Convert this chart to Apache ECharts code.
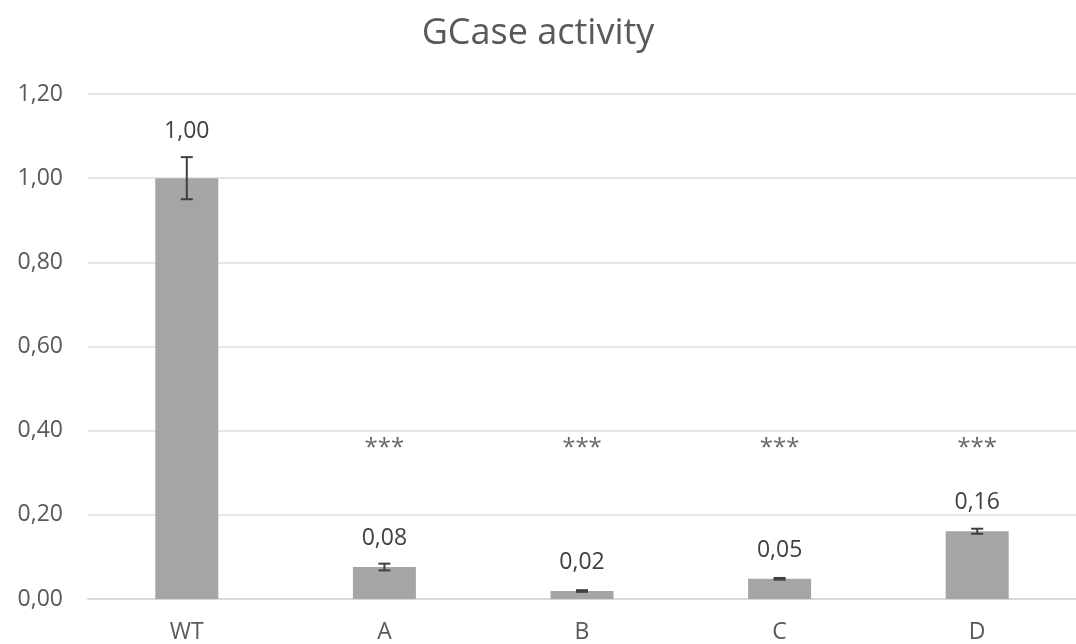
<!DOCTYPE html>
<html><head><meta charset="utf-8">
<script src="https://cdn.jsdelivr.net/npm/echarts@6/dist/echarts.min.js"></script>
<style>html,body{margin:0;padding:0;background:#fff}#c{width:1076px;height:644px}</style>
</head><body><div id="c"></div>
<script>
const categories = ['WT', 'A', 'B', 'C', 'D'];
const values = [1.00, 0.076, 0.019, 0.048, 0.161];
const errors = [0.05, 0.008, 0.002, 0.002, 0.006];
const valueLabels = ['1,00', '0,08', '0,02', '0,05', '0,16'];
const starLabels = ['', '***', '***', '***', '***'];
const starLevel = 0.358;
const yTicks = { min: 0, max: 1.2, interval: 0.2 };

const fmt = v => v.toFixed(2).replace('.', ',');
const font = '"Open Sans", "Noto Sans", sans-serif';

const chart = echarts.init(document.getElementById('c'));
chart.setOption({
  animation: false,
  title: { text: 'GCase activity', left: 'center', top: 11,
    textStyle: { fontFamily: font, fontSize: 36, fontWeight: 'normal', color: '#595959' } },
  grid: { left: 88, right: -12, top: 94, bottom: 45 },
  xAxis: { type: 'category', data: categories,
    axisLine: { lineStyle: { color: '#d9d9d9', width: 2 } },
    axisTick: { show: false },
    axisLabel: { fontFamily: font, fontSize: 23, color: '#595959', margin: 22 } },
  yAxis: { type: 'value', min: yTicks.min, max: yTicks.max, interval: yTicks.interval,
    axisLine: { show: false }, axisTick: { show: false },
    splitLine: { lineStyle: { color: '#e6e6e6', width: 2 } },
    axisLabel: { fontFamily: font, fontSize: 23, color: '#595959', margin: 25, formatter: fmt } },
  series: [
    { type: 'bar', barWidth: 63, itemStyle: { color: '#a5a5a5' },
      data: values.map((v, i) => ({ value: v,
        label: { show: true, position: 'top', distance: i === 0 ? 35 : 17,
          formatter: valueLabels[i], fontFamily: font, fontSize: 23, color: '#404040' } })),
      z: 2 },
    { type: 'custom', z: 5,
      data: values.map((v, i) => [i, v, errors[i]]),
      renderItem: function (params, api) {
        const x = api.value(0), v = api.value(1), e = api.value(2);
        const hi = api.coord([x, v + e]);
        const lo = api.coord([x, v - e]);
        const hw = 6;
        const style = { stroke: '#404040', lineWidth: 2 };
        return { type: 'group', children: [
          { type: 'line', shape: { x1: hi[0], y1: hi[1], x2: lo[0], y2: lo[1] }, style },
          { type: 'line', shape: { x1: hi[0] - hw, y1: hi[1], x2: hi[0] + hw, y2: hi[1] }, style },
          { type: 'line', shape: { x1: lo[0] - hw, y1: lo[1], x2: lo[0] + hw, y2: lo[1] }, style }
        ] };
      } },
    { type: 'scatter', symbolSize: 0, z: 6,
      data: categories.map((c, i) => [i, starLevel]),
      label: { show: true, position: 'inside', formatter: p => starLabels[p.dataIndex],
        fontFamily: font, fontSize: 24, color: '#404040' } }
  ]
});
</script>
</body></html>
